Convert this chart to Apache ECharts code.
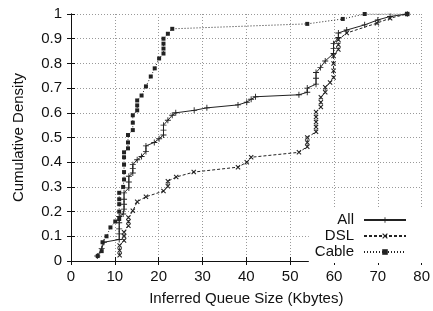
<!DOCTYPE html>
<html lang="en">
<head>
  <meta charset="UTF-8" />
  <title>Inferred Queue Size CDF</title>
  <script src="https://cdn.jsdelivr.net/npm/echarts@6/dist/echarts.min.js"></script>
  <style>
    html, body { margin: 0; padding: 0; background: #fff; }
    #chart { width: 433px; height: 311px; }
  </style>
</head>
<body>
  <div id="chart"></div>
  <script>
    // CDF samples: [queue size (Kbytes), cumulative density]
    var allData = [
      [6.0, 0.02], [7.0, 0.05], [7.5, 0.076], [11.0, 0.087], [11.0, 0.11], [11.0, 0.13],
      [11.0, 0.155], [11.0, 0.18], [11.9, 0.19], [12.1, 0.21], [12.1, 0.23], [12.1, 0.25],
      [12.1, 0.276], [13.2, 0.296], [13.2, 0.32], [13.2, 0.343], [14.1, 0.356], [14.1, 0.375],
      [14.1, 0.39], [15.1, 0.41], [16.1, 0.423], [17.1, 0.443], [17.1, 0.466], [19.0, 0.48],
      [20.1, 0.495], [21.1, 0.51], [21.1, 0.53], [21.1, 0.55], [22.1, 0.57], [23.1, 0.59],
      [23.9, 0.60], [28.1, 0.61], [31.0, 0.62], [38.1, 0.632], [40.1, 0.643], [41.1, 0.655],
      [42.1, 0.665], [52.0, 0.673], [53.9, 0.683], [53.9, 0.70], [55.9, 0.716], [55.9, 0.74],
      [55.9, 0.763], [56.9, 0.783], [58.0, 0.81], [59.9, 0.84], [59.9, 0.86], [59.9, 0.88],
      [61.0, 0.905], [61.0, 0.923], [62.9, 0.935], [67.0, 0.956], [70.0, 0.976], [72.8, 0.99],
      [76.7, 1.0]
    ];
    var dslData = [
      [11.1, 0.023], [11.1, 0.043], [11.1, 0.063], [12.1, 0.083], [12.1, 0.10], [12.1, 0.116],
      [13.1, 0.143], [13.1, 0.16], [13.1, 0.176], [14.1, 0.203], [15.1, 0.24], [17.1, 0.26],
      [21.1, 0.283], [22.1, 0.303], [22.1, 0.323], [24.0, 0.34], [28.0, 0.36], [38.1, 0.38],
      [40.1, 0.40], [41.1, 0.42], [52.0, 0.44], [53.9, 0.463], [53.9, 0.48], [53.9, 0.50],
      [55.9, 0.523], [55.9, 0.543], [55.9, 0.563], [55.9, 0.583], [55.9, 0.603], [57.0, 0.623],
      [57.0, 0.643], [57.0, 0.663], [58.0, 0.683], [58.0, 0.703], [59.1, 0.723], [59.9, 0.743],
      [59.9, 0.77], [59.9, 0.80], [59.9, 0.83], [61.0, 0.856], [61.0, 0.876], [61.0, 0.896],
      [62.9, 0.923], [69.8, 0.963], [72.8, 0.983], [76.7, 1.0]
    ];
    var cableData = [
      [6.1, 0.02], [7.0, 0.04], [7.2, 0.076], [8.1, 0.10], [9.0, 0.136], [10.1, 0.16],
      [11.0, 0.17], [11.0, 0.20], [11.0, 0.23], [11.0, 0.25], [11.0, 0.276], [11.9, 0.30],
      [12.1, 0.33], [12.1, 0.36], [12.1, 0.39], [12.1, 0.42], [12.1, 0.44], [13.0, 0.456],
      [13.0, 0.48], [13.0, 0.51], [14.1, 0.53], [14.1, 0.56], [14.1, 0.59], [15.1, 0.61],
      [15.1, 0.63], [15.1, 0.65], [16.1, 0.67], [17.1, 0.707], [18.2, 0.747], [19.1, 0.78],
      [20.1, 0.82], [21.1, 0.84], [21.1, 0.86], [21.1, 0.88], [21.1, 0.90], [22.1, 0.92],
      [23.1, 0.94], [53.9, 0.96], [62.0, 0.98], [67.0, 1.0], [76.7, 1.0]
    ];
    var seriesNames = ["All", "DSL", "Cable"];

    var FONT = "'Liberation Sans', Arial, Helvetica, sans-serif";
    var INK = "#111";
    var PLUS = "path://M0,4.25H10V5.75H0Z M4.25,0H5.75V10H4.25Z";
    var CROSS = "path://M0,1.5L1.5,0L10,8.5L8.5,10Z M8.5,0L10,1.5L1.5,10L0,8.5Z";

    function $_(id) {
      return document.getElementById(id);
    }

    function mirrorAxis(pos, isX) {
      var ax = {
        type: "value",
        position: pos,
        min: isX ? 0 : 0,
        max: isX ? 80 : 1,
        interval: isX ? 10 : 0.1,
        axisLine: { show: true, lineStyle: { color: INK, width: 1 } },
        axisTick: { show: true, inside: true, length: 4, lineStyle: { color: INK } },
        axisLabel: { show: false },
        splitLine: { show: false }
      };
      return ax;
    }

    var chart = echarts.init($_("chart"), null, { renderer: "canvas" });

    chart.setOption({
      animation: false,
      backgroundColor: "#fff",
      textStyle: { fontFamily: FONT, color: INK },
      grid: { left: 71, right: 7, top: 14, bottom: 47 },
      legend: {
        data: seriesNames,
        orient: "vertical",
        align: "right",
        right: 8,
        bottom: 48,
        padding: [5, 18, 3, 6],
        itemGap: 0,
        itemWidth: 42,
        itemHeight: 7,
        backgroundColor: "#fff",
        textStyle: { fontFamily: FONT, fontSize: 15, color: INK, lineHeight: 16, padding: [0, 5, 0, 0] }
      },
      xAxis: [
        {
          type: "value",
          min: 0,
          max: 80,
          interval: 10,
          name: "Inferred Queue Size (Kbytes)",
          nameLocation: "middle",
          nameGap: 30,
          nameTextStyle: { fontFamily: FONT, fontSize: 15, color: INK },
          axisLine: { show: true, lineStyle: { color: INK, width: 1 } },
          axisTick: { show: true, inside: true, length: 4, lineStyle: { color: INK } },
          axisLabel: { fontFamily: FONT, fontSize: 15, color: INK, margin: 8 },
          splitLine: { show: true, lineStyle: { color: "#999", type: [1, 2], width: 1 } }
        },
        mirrorAxis("top", true)
      ],
      yAxis: [
        {
          type: "value",
          min: 0,
          max: 1,
          interval: 0.1,
          name: "Cumulative Density",
          nameLocation: "middle",
          nameGap: 45,
          nameTextStyle: { fontFamily: FONT, fontSize: 15, color: INK },
          axisLine: { show: true, lineStyle: { color: INK, width: 1 } },
          axisTick: { show: true, inside: true, length: 4, lineStyle: { color: INK } },
          axisLabel: { fontFamily: FONT, fontSize: 15, color: INK, margin: 9 },
          splitLine: { show: true, lineStyle: { color: "#999", type: [1, 2], width: 1 } }
        },
        mirrorAxis("right", false)
      ],
      series: [
        {
          name: "All",
          type: "line",
          data: allData,
          symbol: PLUS,
          symbolSize: 6,
          showAllSymbol: true,
          lineStyle: { color: "#222", width: 1, type: "solid" },
          itemStyle: { color: "#222" },
          z: 3
        },
        {
          name: "DSL",
          type: "line",
          data: dslData,
          symbol: CROSS,
          symbolSize: 5,
          showAllSymbol: true,
          lineStyle: { color: "#222", width: 1, type: [3, 2] },
          itemStyle: { color: "#222" },
          z: 3
        },
        {
          name: "Cable",
          type: "line",
          data: cableData,
          symbol: "rect",
          symbolSize: 4,
          showAllSymbol: true,
          lineStyle: { color: "#222", width: 1, type: [1, 2] },
          itemStyle: { color: "#222" },
          z: 3
        }
      ]
    });
  </script>
</body>
</html>
